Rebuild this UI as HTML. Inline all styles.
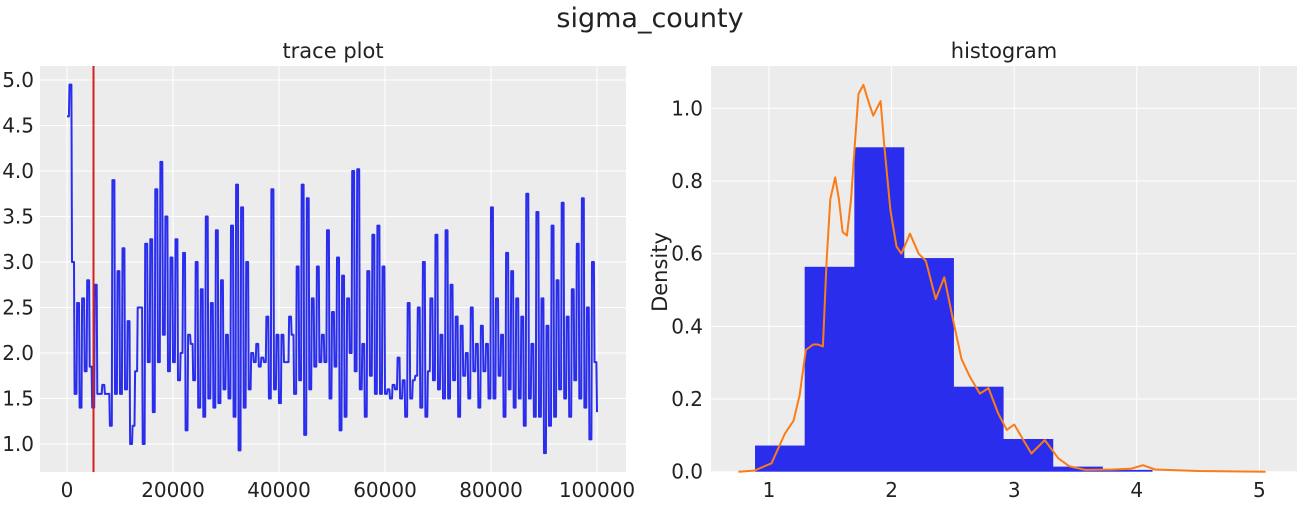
<!DOCTYPE html>
<html><head><meta charset="utf-8"><style>
body{margin:0;background:#fff;font-family:"Liberation Sans","DejaVu Sans",sans-serif}
svg text{font-family:"DejaVu Sans","Liberation Sans",sans-serif;fill:#222}
</style></head><body>
<svg id="c" width="1300" height="500" xmlns="http://www.w3.org/2000/svg">
<text x="650" y="27" font-size="27" text-anchor="middle">sigma_county</text>
<text x="333" y="58" font-size="21" text-anchor="middle">trace plot</text>
<text x="1004" y="58" font-size="21" text-anchor="middle">histogram</text>
<text transform="translate(667,272) rotate(-90)" font-size="21" text-anchor="middle">Density</text>
<g id="L"></g>
<g id="R"></g>
</svg>
<script>
const traceMaxIter = 100000;
const traceValues = [4.6,4.95,3.0,1.55,2.55,1.4,2.6,1.8,2.8,1.85,1.4,2.75,1.55,1.55,1.65,1.55,1.55,1.2,3.9,1.55,2.9,1.55,3.15,1.6,2.35,1.0,1.2,1.8,2.5,2.5,1.0,3.2,1.9,3.25,1.35,3.8,1.9,4.1,2.2,3.5,1.8,3.05,1.9,3.25,1.7,2.0,3.1,1.15,2.2,2.1,1.7,3.0,1.4,2.7,1.3,3.5,1.5,2.55,1.4,3.35,1.45,2.8,1.6,2.2,1.5,3.4,1.3,3.85,0.93,3.6,1.4,3.0,1.6,2.0,1.9,2.1,1.85,1.95,1.9,2.4,1.5,3.8,1.6,2.2,1.45,2.2,1.9,1.9,2.4,2.2,1.55,2.95,1.7,3.85,1.1,3.7,1.6,2.6,1.85,2.95,1.9,2.2,1.9,3.35,1.5,2.45,1.85,3.05,1.15,2.85,1.3,2.6,2.0,4.0,1.8,4.02,1.6,2.1,1.3,2.9,1.75,3.3,1.55,3.4,1.55,2.95,1.55,1.6,1.5,1.65,1.6,1.95,1.5,1.7,1.3,2.55,1.5,1.7,1.75,2.5,1.4,3.0,1.3,1.8,2.6,1.7,3.3,1.6,2.2,1.5,3.35,1.5,2.75,1.7,2.4,1.3,2.3,1.75,2.0,1.5,2.5,1.8,2.1,1.4,2.3,1.8,2.1,1.5,3.6,1.5,2.6,1.75,2.2,1.3,3.1,1.6,2.9,1.4,2.6,1.5,2.4,1.2,3.75,1.5,2.1,1.3,3.55,1.3,2.6,0.9,2.3,1.2,3.4,1.3,2.8,1.6,3.65,1.5,2.4,1.3,2.7,1.7,3.2,1.5,3.7,1.4,2.5,1.05,3.0,1.9,1.35];
const burnIn = 5000;
const traceYTicks = ["1.0","1.5","2.0","2.5","3.0","3.5","4.0","4.5","5.0"];
const traceXTicks = ["0","20000","40000","60000","80000","100000"];
const binEdges = [0.886,1.291,1.696,2.101,2.506,2.911,3.316,3.721,4.126];
const binHeights = [0.072,0.564,0.893,0.588,0.234,0.09,0.014,0.005];
const kdeX = [0.75,0.88,1.02,1.13,1.2,1.25,1.3,1.36,1.4,1.44,1.47,1.5,1.54,1.57,1.6,1.635,1.67,1.7,1.73,1.77,1.81,1.85,1.91,1.94,1.99,2.04,2.08,2.15,2.22,2.28,2.36,2.43,2.5,2.57,2.64,2.72,2.79,2.87,2.94,3.0,3.07,3.14,3.25,3.36,3.45,3.58,3.8,3.95,4.05,4.15,4.5,5.05];
const kdeY = [0,0.003,0.023,0.105,0.14,0.21,0.335,0.35,0.35,0.345,0.58,0.75,0.81,0.75,0.66,0.65,0.75,0.9,1.04,1.065,1.02,0.98,1.02,0.9,0.72,0.62,0.6,0.655,0.6,0.58,0.475,0.535,0.42,0.31,0.26,0.215,0.23,0.16,0.115,0.13,0.09,0.05,0.087,0.037,0.015,0.005,0.006,0.008,0.018,0.006,0.002,0];
const histYTicks = ["0.0","0.2","0.4","0.6","0.8","1.0"];
const histXTicks = ["1","2","3","4","5"];

const NS="http://www.w3.org/2000/svg";
function mk(p,t,a){const e=document.createElementNS(NS,t);for(const k in a)e.setAttribute(k,a[k]);p.appendChild(e);return e;}
const L=document.getElementById('L'), R=document.getElementById('R');
const lx0=40,lx1=626,ly0=66,ly1=472;
const tx=v=>67+v*(597-67)/100000, ty=v=>444-(v-1)*91;
const bgL=mk(L,'rect',{x:lx0,y:ly0,width:lx1-lx0,height:ly1-ly0,fill:'#ececec'});


traceYTicks.forEach(t=>{const y=ty(+t);
 const g=mk(L,'line',{x1:lx0,x2:lx1,y1:y,y2:y,stroke:'#fff','stroke-width':1});
 
 const s=mk(L,'text',{x:34,y:y+7,'font-size':20,'text-anchor':'end'});s.textContent=t;
 });
traceXTicks.forEach(t=>{const x=tx(+t);
 const g=mk(L,'line',{x1:x,x2:x,y1:ly0,y2:ly1,stroke:'#fff','stroke-width':1});
 
 const s=mk(L,'text',{x:x,y:497,'font-size':20,'text-anchor':'middle'});s.textContent=t;
 });
const stp=traceMaxIter/(traceValues.length-1);
let d='';traceValues.forEach((v,i)=>{const x=tx(i*stp),y=ty(v);
 if(i===0){d+='M'+x.toFixed(1)+','+y.toFixed(1);}
 else{d+='H'+(x-0.6).toFixed(1)+'L'+x.toFixed(1)+','+y.toFixed(1);}});
const tl=mk(L,'path',{d:d,fill:'none',stroke:'#2a2eec','stroke-width':2,'stroke-linejoin':'round'});

const bl=mk(L,'line',{x1:tx(burnIn),x2:tx(burnIn),y1:ly0,y2:ly1,stroke:'#d62020','stroke-width':2});

const rx0=711,rx1=1297,ry0=66,ry1=472;
const hx=v=>769+(v-1)*122.6, hy=v=>471.7-v*363.3;
const bgR=mk(R,'rect',{x:rx0,y:ry0,width:rx1-rx0,height:ry1-ry0,fill:'#ececec'});


histYTicks.forEach(t=>{const y=hy(+t);
 const g=mk(R,'line',{x1:rx0,x2:rx1,y1:y,y2:y,stroke:'#fff','stroke-width':1});
 
 const s=mk(R,'text',{x:703,y:y+7,'font-size':20,'text-anchor':'end'});s.textContent=t;
 });
histXTicks.forEach(t=>{const x=hx(+t);
 const g=mk(R,'line',{x1:x,x2:x,y1:ry0,y2:ry1,stroke:'#fff','stroke-width':1});
 
 const s=mk(R,'text',{x:x,y:497,'font-size':20,'text-anchor':'middle'});s.textContent=t;
 });
binHeights.forEach((h,i)=>{const x=hx(binEdges[i]),w=hx(binEdges[i+1])-x;
 const b=mk(R,'rect',{x:x,y:hy(h),width:w+0.3,height:hy(0)-hy(h),fill:'#2a2eec'});
 });
let kd='';kdeX.forEach((v,i)=>{kd+=(i?'L':'M')+hx(v).toFixed(1)+','+hy(kdeY[i]).toFixed(1);});
const kl=mk(R,'path',{d:kd,fill:'none',stroke:'#fa7c17','stroke-width':2,'stroke-linejoin':'round'});

</script>
</body></html>
